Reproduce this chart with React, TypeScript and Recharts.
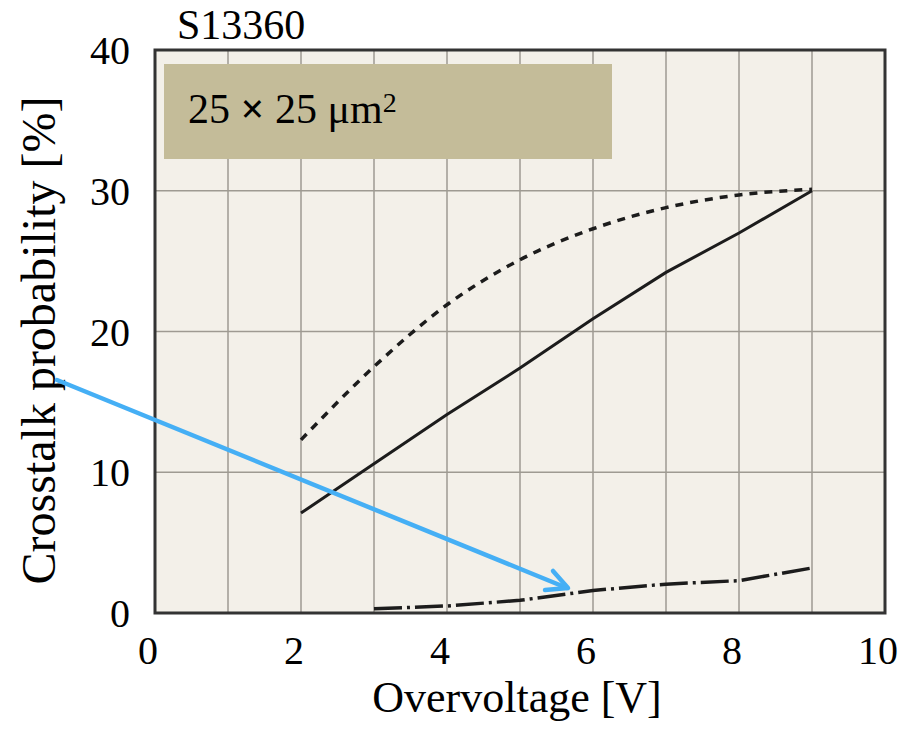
import { LineChart, Line, XAxis, YAxis, CartesianGrid, ReferenceArea, Label } from "recharts";

// Crosstalk probability vs overvoltage, S13360 (25 x 25 um pitch)
const xTicks = [0, 1, 2, 3, 4, 5, 6, 7, 8, 9, 10];
const yTicks = [0, 10, 20, 30, 40];

const solidV = [2, 3, 4, 5, 6, 7, 8, 9];
const solidP = [7.1, 10.6, 14.1, 17.4, 20.9, 24.2, 27.0, 30.0];

const dashedV = [2, 3, 4, 5, 6, 7, 8, 9];
const dashedP = [12.3, 17.5, 21.9, 25.1, 27.3, 28.8, 29.7, 30.1];

const dotDashV = [3, 4, 5, 6, 7, 8, 9];
const dotDashP = [0.3, 0.5, 0.9, 1.6, 2.05, 2.3, 3.2];

const toRows = (xs: number[], ys: number[]) => xs.map((v, i) => ({ v, p: ys[i] }));

const FONT = "'Liberation Serif', 'Times New Roman', serif";
const INK = "#1c1c1c";

const App = () => {
  const solid = toRows(solidV, solidP);
  const dashed = toRows(dashedV, dashedP);
  const dotDash = toRows(dotDashV, dotDashP);

  return (
    <div style={{ position: "relative", margin: -8, width: 918, height: 748, background: "#fff", fontFamily: FONT }}>
      <LineChart width={918} height={748} margin={{ top: 50, right: 33, bottom: 0, left: 0 }}>
        <CartesianGrid fill="#f3f0e9" stroke="#9e9a92" strokeWidth={1.5} />
        <XAxis
          type="number"
          dataKey="v"
          domain={[0, 10]}
          ticks={xTicks}
          tickFormatter={(t: number) => (t % 2 === 0 ? String(t) : "")}
          axisLine={false}
          tickLine={false}
          tickSize={0}
          tickMargin={23}
          height={135}
          tick={{ fill: "#000", fontSize: 40, fontFamily: FONT, dx: -7 }}
          allowDuplicatedCategory={false}
        >
          <Label
            content={({ viewBox }: any) => (
              <text
                x={viewBox.x + viewBox.width / 2 - 3}
                y={viewBox.y + 99}
                textAnchor="middle"
                fontSize={44}
                fontFamily={FONT}
                fill="#000"
              >
                Overvoltage [V]
              </text>
            )}
          />
        </XAxis>
        <YAxis
          type="number"
          domain={[0, 40]}
          ticks={yTicks}
          axisLine={false}
          tickLine={false}
          tickSize={0}
          tickMargin={25}
          width={155}
          tick={{ fill: "#000", fontSize: 40, fontFamily: FONT }}
        >
          <Label
            content={({ viewBox }: any) => {
              const cx = 55;
              const cy = viewBox.y + viewBox.height / 2 + 9;
              return (
                <text
                  x={cx}
                  y={cy}
                  transform={`rotate(-90 ${cx} ${cy})`}
                  textAnchor="middle"
                  fontSize={48}
                  fontFamily={FONT}
                  fill="#000"
                >
                  Crosstalk probability [%]
                </text>
              );
            }}
          />
        </YAxis>
        <Line
          data={dashed}
          dataKey="p"
          type="monotone"
          stroke={INK}
          strokeWidth={3.5}
          strokeDasharray="8 7"
          dot={false}
          isAnimationActive={false}
        />
        <Line
          data={solid}
          dataKey="p"
          type="linear"
          stroke={INK}
          strokeWidth={3}
          dot={false}
          isAnimationActive={false}
        />
        <Line
          data={dotDash}
          dataKey="p"
          type="linear"
          stroke={INK}
          strokeWidth={3.5}
          strokeDasharray="28 5 3 5"
          dot={false}
          isAnimationActive={false}
        />
        <ReferenceArea x1={0} x2={10} y1={0} y2={40} fill="none" stroke="#333" strokeWidth={3} ifOverflow="visible" />
      </LineChart>

      <div
        style={{
          position: "absolute",
          left: 177,
          top: 4,
          fontSize: 42,
          lineHeight: "42px",
          color: "#000",
        }}
      >
        S13360
      </div>

      <div
        style={{
          position: "absolute",
          left: 164,
          top: 64,
          width: 448,
          height: 95,
          background: "#c4bc99",
          boxSizing: "border-box",
          paddingLeft: 24,
          paddingTop: 22,
          fontSize: 42,
          lineHeight: "46px",
          color: "#000",
          whiteSpace: "nowrap",
        }}
      >
        25 <span style={{ fontWeight: 700 }}>×</span> 25 μm
        <sup style={{ fontSize: 28, verticalAlign: "top", position: "relative", top: -6 }}>2</sup>
      </div>

      <svg width={918} height={748} style={{ position: "absolute", left: 0, top: 0, pointerEvents: "none" }}>
        <g stroke="#45aff5" strokeWidth={4.5} strokeLinecap="round" strokeLinejoin="round" fill="none">
          <line x1={57} y1={380} x2={567} y2={588} />
          <polyline points="553,571 568,588 545,590" />
        </g>
      </svg>
    </div>
  );
};

export default App;
